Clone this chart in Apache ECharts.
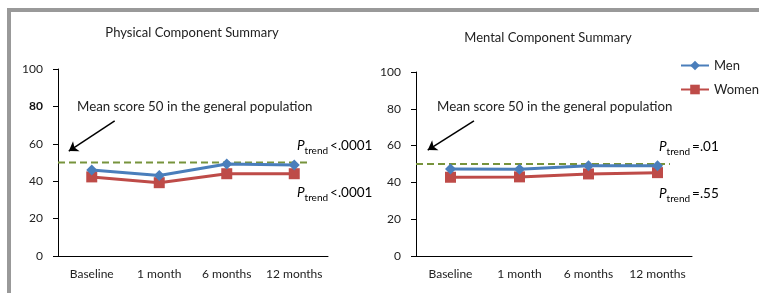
<!DOCTYPE html>
<html><head><meta charset="utf-8">
<script src="https://cdn.jsdelivr.net/npm/echarts@6/dist/echarts.min.js"></script>
<style>html,body{margin:0;padding:0;background:#fff}#c{width:759px;height:293px}</style>
</head><body><div id="c"></div>
<script>
const categories = ['Baseline', '1 month', '6 months', '12 months'];
const yTicks = [0, 20, 40, 60, 80, 100];
const pcsMen = [46, 43, 49.2, 48.7];
const pcsWomen = [42.3, 39.2, 44, 44];
const mcsMen = [47.3, 47.1, 49, 49];
const mcsWomen = [42.8, 43, 44.6, 45.3];
const refValue = 50;
const titles = ['Physical Component Summary', 'Mental Component Summary'];
const pLabels = [['<.0001', '<.0001'], ['=.01', '=.55']];
const annot = 'Mean score 50 in the general population';

const FONT = 'Lato';
const chart = echarts.init(document.getElementById('c'));
const grids = [
  {left: 58, width: 270, top: 69, bottom: 37},
  {left: 416, width: 276, top: 72, bottom: 37}
];
const xAxes = [], yAxes = [], series = [];
grids.forEach((g, i) => {
  xAxes.push({type: 'category', gridIndex: i, data: categories, boundaryGap: true,
    axisLine: {lineStyle: {color: '#000', width: 1}}, axisTick: {show: false},
    axisLabel: {interval: 0, color: '#222', fontFamily: FONT, fontSize: 12, margin: 12}});
  xAxes.push({type: 'value', gridIndex: i, min: 0, max: 4, show: false});
  yAxes.push({type: 'value', gridIndex: i, min: yTicks[0], max: yTicks[yTicks.length - 1], interval: 20,
    splitLine: {show: false},
    axisLine: {show: true, lineStyle: {color: '#000', width: 1}},
    axisTick: {show: true, length: 5, lineStyle: {color: '#000'}},
    axisLabel: {color: '#222', fontFamily: FONT, fontSize: 12, margin: 15,
      formatter: v => (i === 0 && v === 80) ? '{b|80}' : String(v),
      rich: {b: {fontWeight: 'bold', fontFamily: FONT, fontSize: 12, color: '#111'}}}});
});
const menData = [pcsMen, mcsMen], womenData = [pcsWomen, mcsWomen];
const dashEnd = [3.73, 3.68];
const arrows = [[[0.84, 72.2], [0.16, 56.1]], [[0.84, 73.4], [0.17, 57.6]]];
[0, 1].forEach(i => {
  series.push({name: 'Men', type: 'line', xAxisIndex: i * 2, yAxisIndex: i, data: menData[i],
    symbol: 'diamond', symbolSize: 11, lineStyle: {color: '#4a7ebb', width: 3},
    itemStyle: {color: '#4a7ebb'}, z: 3});
  series.push({name: 'Women', type: 'line', xAxisIndex: i * 2, yAxisIndex: i, data: womenData[i],
    symbol: 'rect', symbolSize: 11, lineStyle: {color: '#be4b48', width: 3},
    itemStyle: {color: '#be4b48'}, z: 2});
  series.push({name: 'ref' + i, type: 'line', xAxisIndex: i * 2 + 1, yAxisIndex: i,
    data: [[0, refValue], [dashEnd[i], refValue]], symbol: 'none',
    lineStyle: {color: '#77933c', width: 2, type: [7, 4]}, z: 1, silent: true,
    markLine: {silent: true, symbol: ['none', 'arrow'], symbolSize: 9, label: {show: false},
      lineStyle: {color: '#000', width: 1.5, type: 'solid'},
      data: [[{coord: arrows[i][0]}, {coord: arrows[i][1]}]]}});
});
const rich = {
  i: {fontStyle: 'italic', fontSize: 13.5, fontFamily: FONT, color: '#222', verticalAlign: 'bottom'},
  s: {fontSize: 10, fontFamily: FONT, color: '#222', verticalAlign: 'bottom', padding: [0, 2, -3, 0]},
  t: {fontSize: 13.5, fontFamily: FONT, color: '#222', verticalAlign: 'bottom'}
};
const pPos = [[297, [153, 200]], [659, [154, 201]]];
const graphics = [
  {type: 'rect', shape: {x: 7, y: 8, width: 752, height: 4}, style: {fill: '#999'}},
  {type: 'rect', shape: {x: 7, y: 8, width: 4, height: 285}, style: {fill: '#999'}},
  {type: 'text', x: 192, y: 33, style: {text: titles[0], font: '13px ' + FONT, fill: '#222', align: 'center', verticalAlign: 'middle'}},
  {type: 'text', x: 548, y: 38, style: {text: titles[1], font: '13px ' + FONT, fill: '#222', align: 'center', verticalAlign: 'middle'}},
  {type: 'text', x: 77, y: 107, style: {text: annot, font: '13.3px ' + FONT, fill: '#222', verticalAlign: 'middle'}},
  {type: 'text', x: 437, y: 107, style: {text: annot, font: '13.3px ' + FONT, fill: '#222', verticalAlign: 'middle'}}
];
pPos.forEach((p, i) => {
  p[1].forEach((y, j) => {
    graphics.push({type: 'text', x: p[0], y: y,
      style: {text: '{i|P}{s|trend}{t|' + pLabels[i][j] + '}', rich: rich, verticalAlign: 'bottom'}});
  });
});
chart.setOption({
  backgroundColor: '#fff',
  animation: false,
  grid: grids,
  xAxis: xAxes,
  yAxis: yAxes,
  legend: {data: ['Men', 'Women'], orient: 'vertical', left: 680, top: 59, padding: 0, itemWidth: 28, itemHeight: 12,
    itemGap: 11, textStyle: {fontFamily: FONT, fontSize: 13, color: '#222'}},
  series: series,
  graphic: graphics
});
</script></body></html>
